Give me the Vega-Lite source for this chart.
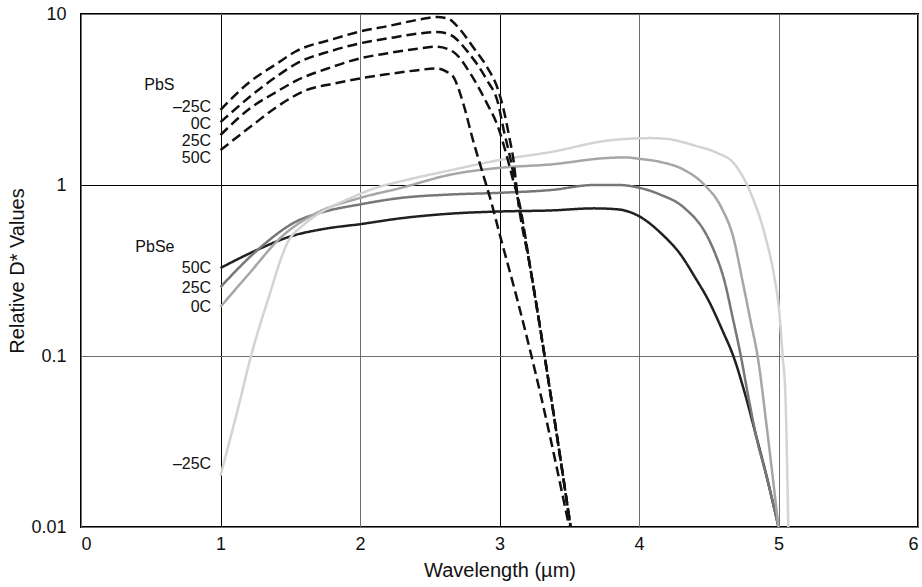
{
  "$schema": "https://vega.github.io/schema/vega-lite/v6.json",
  "autosize": {"type": "none"},
  "width": 837,
  "height": 513,
  "padding": {"left": 81, "top": 14, "right": 4, "bottom": 60},
  "background": "white",
  "config": {
    "font": "Liberation Sans",
    "view": {"stroke": "#000", "strokeWidth": 2},
    "axis": {"domain": false, "ticks": false, "labelFont": "Liberation Sans", "titleFont": "Liberation Sans", "labelColor": "#111", "titleColor": "#111", "titleFontWeight": "normal"}
  },
  "datasets": {
    "curves": [
      {"series": "PbSe 50C", "material": "PbSe", "x": 1.0, "y": 0.327},
      {"series": "PbSe 50C", "material": "PbSe", "x": 1.27, "y": 0.42},
      {"series": "PbSe 50C", "material": "PbSe", "x": 1.5, "y": 0.5},
      {"series": "PbSe 50C", "material": "PbSe", "x": 1.75, "y": 0.555},
      {"series": "PbSe 50C", "material": "PbSe", "x": 2.0, "y": 0.59},
      {"series": "PbSe 50C", "material": "PbSe", "x": 2.3, "y": 0.64},
      {"series": "PbSe 50C", "material": "PbSe", "x": 2.65, "y": 0.68},
      {"series": "PbSe 50C", "material": "PbSe", "x": 3.0, "y": 0.7},
      {"series": "PbSe 50C", "material": "PbSe", "x": 3.37, "y": 0.71},
      {"series": "PbSe 50C", "material": "PbSe", "x": 3.68, "y": 0.73},
      {"series": "PbSe 50C", "material": "PbSe", "x": 3.85, "y": 0.72},
      {"series": "PbSe 50C", "material": "PbSe", "x": 4.01, "y": 0.65},
      {"series": "PbSe 50C", "material": "PbSe", "x": 4.16, "y": 0.52},
      {"series": "PbSe 50C", "material": "PbSe", "x": 4.3, "y": 0.39},
      {"series": "PbSe 50C", "material": "PbSe", "x": 4.4, "y": 0.29},
      {"series": "PbSe 50C", "material": "PbSe", "x": 4.5, "y": 0.21},
      {"series": "PbSe 50C", "material": "PbSe", "x": 4.6, "y": 0.14},
      {"series": "PbSe 50C", "material": "PbSe", "x": 4.68, "y": 0.098},
      {"series": "PbSe 50C", "material": "PbSe", "x": 4.76, "y": 0.06},
      {"series": "PbSe 50C", "material": "PbSe", "x": 4.84, "y": 0.034},
      {"series": "PbSe 50C", "material": "PbSe", "x": 4.92, "y": 0.019},
      {"series": "PbSe 50C", "material": "PbSe", "x": 5.0, "y": 0.01},

      {"series": "PbSe 25C", "material": "PbSe", "x": 1.0, "y": 0.253},
      {"series": "PbSe 25C", "material": "PbSe", "x": 1.27, "y": 0.42},
      {"series": "PbSe 25C", "material": "PbSe", "x": 1.54, "y": 0.61},
      {"series": "PbSe 25C", "material": "PbSe", "x": 1.75, "y": 0.7},
      {"series": "PbSe 25C", "material": "PbSe", "x": 2.0, "y": 0.77},
      {"series": "PbSe 25C", "material": "PbSe", "x": 2.29, "y": 0.84},
      {"series": "PbSe 25C", "material": "PbSe", "x": 2.65, "y": 0.88},
      {"series": "PbSe 25C", "material": "PbSe", "x": 3.0, "y": 0.9},
      {"series": "PbSe 25C", "material": "PbSe", "x": 3.37, "y": 0.935},
      {"series": "PbSe 25C", "material": "PbSe", "x": 3.68, "y": 1.0},
      {"series": "PbSe 25C", "material": "PbSe", "x": 3.85, "y": 1.0},
      {"series": "PbSe 25C", "material": "PbSe", "x": 4.01, "y": 0.96},
      {"series": "PbSe 25C", "material": "PbSe", "x": 4.15, "y": 0.88},
      {"series": "PbSe 25C", "material": "PbSe", "x": 4.32, "y": 0.74},
      {"series": "PbSe 25C", "material": "PbSe", "x": 4.49, "y": 0.5},
      {"series": "PbSe 25C", "material": "PbSe", "x": 4.55, "y": 0.39},
      {"series": "PbSe 25C", "material": "PbSe", "x": 4.61, "y": 0.28},
      {"series": "PbSe 25C", "material": "PbSe", "x": 4.67, "y": 0.17},
      {"series": "PbSe 25C", "material": "PbSe", "x": 4.73, "y": 0.1},
      {"series": "PbSe 25C", "material": "PbSe", "x": 4.78, "y": 0.06},
      {"series": "PbSe 25C", "material": "PbSe", "x": 4.84, "y": 0.034},
      {"series": "PbSe 25C", "material": "PbSe", "x": 4.92, "y": 0.019},
      {"series": "PbSe 25C", "material": "PbSe", "x": 5.0, "y": 0.01},

      {"series": "PbSe 0C", "material": "PbSe", "x": 1.0, "y": 0.194},
      {"series": "PbSe 0C", "material": "PbSe", "x": 1.2, "y": 0.3},
      {"series": "PbSe 0C", "material": "PbSe", "x": 1.44, "y": 0.5},
      {"series": "PbSe 0C", "material": "PbSe", "x": 1.68, "y": 0.68},
      {"series": "PbSe 0C", "material": "PbSe", "x": 2.0, "y": 0.84},
      {"series": "PbSe 0C", "material": "PbSe", "x": 2.29, "y": 0.96},
      {"series": "PbSe 0C", "material": "PbSe", "x": 2.65, "y": 1.15},
      {"series": "PbSe 0C", "material": "PbSe", "x": 3.0, "y": 1.26},
      {"series": "PbSe 0C", "material": "PbSe", "x": 3.37, "y": 1.32},
      {"series": "PbSe 0C", "material": "PbSe", "x": 3.78, "y": 1.44},
      {"series": "PbSe 0C", "material": "PbSe", "x": 3.9, "y": 1.45},
      {"series": "PbSe 0C", "material": "PbSe", "x": 4.01, "y": 1.42},
      {"series": "PbSe 0C", "material": "PbSe", "x": 4.16, "y": 1.36},
      {"series": "PbSe 0C", "material": "PbSe", "x": 4.32, "y": 1.23},
      {"series": "PbSe 0C", "material": "PbSe", "x": 4.47, "y": 1.0},
      {"series": "PbSe 0C", "material": "PbSe", "x": 4.59, "y": 0.74},
      {"series": "PbSe 0C", "material": "PbSe", "x": 4.68, "y": 0.48},
      {"series": "PbSe 0C", "material": "PbSe", "x": 4.74, "y": 0.28},
      {"series": "PbSe 0C", "material": "PbSe", "x": 4.8, "y": 0.16},
      {"series": "PbSe 0C", "material": "PbSe", "x": 4.85, "y": 0.1},
      {"series": "PbSe 0C", "material": "PbSe", "x": 4.92, "y": 0.036},
      {"series": "PbSe 0C", "material": "PbSe", "x": 5.0, "y": 0.01},

      {"series": "PbSe -25C", "material": "PbSe", "x": 1.0, "y": 0.02},
      {"series": "PbSe -25C", "material": "PbSe", "x": 1.14, "y": 0.055},
      {"series": "PbSe -25C", "material": "PbSe", "x": 1.21, "y": 0.094},
      {"series": "PbSe -25C", "material": "PbSe", "x": 1.34, "y": 0.213},
      {"series": "PbSe -25C", "material": "PbSe", "x": 1.49, "y": 0.476},
      {"series": "PbSe -25C", "material": "PbSe", "x": 1.58, "y": 0.57},
      {"series": "PbSe -25C", "material": "PbSe", "x": 1.68, "y": 0.66},
      {"series": "PbSe -25C", "material": "PbSe", "x": 1.8, "y": 0.75},
      {"series": "PbSe -25C", "material": "PbSe", "x": 1.92, "y": 0.83},
      {"series": "PbSe -25C", "material": "PbSe", "x": 2.11, "y": 0.96},
      {"series": "PbSe -25C", "material": "PbSe", "x": 2.29, "y": 1.05},
      {"series": "PbSe -25C", "material": "PbSe", "x": 2.65, "y": 1.22},
      {"series": "PbSe -25C", "material": "PbSe", "x": 3.0, "y": 1.4},
      {"series": "PbSe -25C", "material": "PbSe", "x": 3.37, "y": 1.56},
      {"series": "PbSe -25C", "material": "PbSe", "x": 3.78, "y": 1.82},
      {"series": "PbSe -25C", "material": "PbSe", "x": 4.08, "y": 1.88},
      {"series": "PbSe -25C", "material": "PbSe", "x": 4.2, "y": 1.86},
      {"series": "PbSe -25C", "material": "PbSe", "x": 4.4, "y": 1.7},
      {"series": "PbSe -25C", "material": "PbSe", "x": 4.56, "y": 1.54},
      {"series": "PbSe -25C", "material": "PbSe", "x": 4.68, "y": 1.34},
      {"series": "PbSe -25C", "material": "PbSe", "x": 4.8, "y": 0.9},
      {"series": "PbSe -25C", "material": "PbSe", "x": 4.9, "y": 0.52},
      {"series": "PbSe -25C", "material": "PbSe", "x": 4.97, "y": 0.29},
      {"series": "PbSe -25C", "material": "PbSe", "x": 5.0, "y": 0.2},
      {"series": "PbSe -25C", "material": "PbSe", "x": 5.03, "y": 0.1},
      {"series": "PbSe -25C", "material": "PbSe", "x": 5.05, "y": 0.057},
      {"series": "PbSe -25C", "material": "PbSe", "x": 5.07, "y": 0.01},

      {"series": "PbS -25C", "material": "PbS", "x": 1.0, "y": 2.75},
      {"series": "PbS -25C", "material": "PbS", "x": 1.2, "y": 3.95},
      {"series": "PbS -25C", "material": "PbS", "x": 1.4, "y": 5.1},
      {"series": "PbS -25C", "material": "PbS", "x": 1.55, "y": 6.1},
      {"series": "PbS -25C", "material": "PbS", "x": 1.8, "y": 7.1},
      {"series": "PbS -25C", "material": "PbS", "x": 2.0, "y": 7.9},
      {"series": "PbS -25C", "material": "PbS", "x": 2.2, "y": 8.5},
      {"series": "PbS -25C", "material": "PbS", "x": 2.43, "y": 9.3},
      {"series": "PbS -25C", "material": "PbS", "x": 2.55, "y": 9.6},
      {"series": "PbS -25C", "material": "PbS", "x": 2.63, "y": 9.4},
      {"series": "PbS -25C", "material": "PbS", "x": 2.72, "y": 8.06},
      {"series": "PbS -25C", "material": "PbS", "x": 2.81, "y": 6.41},
      {"series": "PbS -25C", "material": "PbS", "x": 2.91, "y": 4.9},
      {"series": "PbS -25C", "material": "PbS", "x": 2.99, "y": 3.6},
      {"series": "PbS -25C", "material": "PbS", "x": 3.03, "y": 2.75},
      {"series": "PbS -25C", "material": "PbS", "x": 3.07, "y": 1.91},
      {"series": "PbS -25C", "material": "PbS", "x": 3.1, "y": 1.4},
      {"series": "PbS -25C", "material": "PbS", "x": 3.13, "y": 0.85},
      {"series": "PbS -25C", "material": "PbS", "x": 3.22, "y": 0.33},
      {"series": "PbS -25C", "material": "PbS", "x": 3.37, "y": 0.057},
      {"series": "PbS -25C", "material": "PbS", "x": 3.51, "y": 0.01},

      {"series": "PbS 0C", "material": "PbS", "x": 1.0, "y": 2.33},
      {"series": "PbS 0C", "material": "PbS", "x": 1.21, "y": 3.28},
      {"series": "PbS 0C", "material": "PbS", "x": 1.4, "y": 4.3},
      {"series": "PbS 0C", "material": "PbS", "x": 1.55, "y": 5.16},
      {"series": "PbS 0C", "material": "PbS", "x": 1.8, "y": 6.1},
      {"series": "PbS 0C", "material": "PbS", "x": 2.0, "y": 6.74},
      {"series": "PbS 0C", "material": "PbS", "x": 2.2, "y": 7.2},
      {"series": "PbS 0C", "material": "PbS", "x": 2.43, "y": 7.7},
      {"series": "PbS 0C", "material": "PbS", "x": 2.55, "y": 7.85},
      {"series": "PbS 0C", "material": "PbS", "x": 2.65, "y": 7.54},
      {"series": "PbS 0C", "material": "PbS", "x": 2.78, "y": 5.9},
      {"series": "PbS 0C", "material": "PbS", "x": 2.91, "y": 4.1},
      {"series": "PbS 0C", "material": "PbS", "x": 2.99, "y": 3.0},
      {"series": "PbS 0C", "material": "PbS", "x": 3.03, "y": 2.1},
      {"series": "PbS 0C", "material": "PbS", "x": 3.08, "y": 1.4},
      {"series": "PbS 0C", "material": "PbS", "x": 3.13, "y": 0.85},
      {"series": "PbS 0C", "material": "PbS", "x": 3.22, "y": 0.33},
      {"series": "PbS 0C", "material": "PbS", "x": 3.37, "y": 0.057},
      {"series": "PbS 0C", "material": "PbS", "x": 3.51, "y": 0.01},

      {"series": "PbS 25C", "material": "PbS", "x": 1.0, "y": 1.96},
      {"series": "PbS 25C", "material": "PbS", "x": 1.21, "y": 2.8},
      {"series": "PbS 25C", "material": "PbS", "x": 1.4, "y": 3.5},
      {"series": "PbS 25C", "material": "PbS", "x": 1.55, "y": 4.1},
      {"series": "PbS 25C", "material": "PbS", "x": 1.8, "y": 4.9},
      {"series": "PbS 25C", "material": "PbS", "x": 2.0, "y": 5.5},
      {"series": "PbS 25C", "material": "PbS", "x": 2.2, "y": 5.9},
      {"series": "PbS 25C", "material": "PbS", "x": 2.4, "y": 6.25},
      {"series": "PbS 25C", "material": "PbS", "x": 2.55, "y": 6.44},
      {"series": "PbS 25C", "material": "PbS", "x": 2.67, "y": 6.0},
      {"series": "PbS 25C", "material": "PbS", "x": 2.79, "y": 4.5},
      {"series": "PbS 25C", "material": "PbS", "x": 2.91, "y": 3.0},
      {"series": "PbS 25C", "material": "PbS", "x": 2.99, "y": 2.18},
      {"series": "PbS 25C", "material": "PbS", "x": 3.05, "y": 1.5},
      {"series": "PbS 25C", "material": "PbS", "x": 3.1, "y": 1.05},
      {"series": "PbS 25C", "material": "PbS", "x": 3.14, "y": 0.8},
      {"series": "PbS 25C", "material": "PbS", "x": 3.22, "y": 0.33},
      {"series": "PbS 25C", "material": "PbS", "x": 3.37, "y": 0.057},
      {"series": "PbS 25C", "material": "PbS", "x": 3.51, "y": 0.01},

      {"series": "PbS 50C", "material": "PbS", "x": 1.0, "y": 1.6},
      {"series": "PbS 50C", "material": "PbS", "x": 1.23, "y": 2.24},
      {"series": "PbS 50C", "material": "PbS", "x": 1.4, "y": 2.85},
      {"series": "PbS 50C", "material": "PbS", "x": 1.62, "y": 3.6},
      {"series": "PbS 50C", "material": "PbS", "x": 1.8, "y": 3.9},
      {"series": "PbS 50C", "material": "PbS", "x": 2.0, "y": 4.2},
      {"series": "PbS 50C", "material": "PbS", "x": 2.2, "y": 4.45},
      {"series": "PbS 50C", "material": "PbS", "x": 2.4, "y": 4.68},
      {"series": "PbS 50C", "material": "PbS", "x": 2.55, "y": 4.8},
      {"series": "PbS 50C", "material": "PbS", "x": 2.62, "y": 4.6},
      {"series": "PbS 50C", "material": "PbS", "x": 2.67, "y": 4.28},
      {"series": "PbS 50C", "material": "PbS", "x": 2.74, "y": 3.0},
      {"series": "PbS 50C", "material": "PbS", "x": 2.81, "y": 1.83},
      {"series": "PbS 50C", "material": "PbS", "x": 2.88, "y": 1.17},
      {"series": "PbS 50C", "material": "PbS", "x": 2.94, "y": 0.8},
      {"series": "PbS 50C", "material": "PbS", "x": 3.0, "y": 0.52},
      {"series": "PbS 50C", "material": "PbS", "x": 3.13, "y": 0.21},
      {"series": "PbS 50C", "material": "PbS", "x": 3.3, "y": 0.057},
      {"series": "PbS 50C", "material": "PbS", "x": 3.5, "y": 0.01}
    ],
    "labels": [
      {"label": "PbS", "x": 0.67, "y": 3.85},
      {"label": "–25C", "x": 0.933, "y": 2.86},
      {"label": "0C", "x": 0.933, "y": 2.28},
      {"label": "25C", "x": 0.933, "y": 1.81},
      {"label": "50C", "x": 0.933, "y": 1.44},
      {"label": "PbSe", "x": 0.67, "y": 0.434},
      {"label": "50C", "x": 0.933, "y": 0.327},
      {"label": "25C", "x": 0.933, "y": 0.25},
      {"label": "0C", "x": 0.933, "y": 0.194},
      {"label": "–25C", "x": 0.933, "y": 0.0233}
    ]
  },
  "layer": [
    {
      "data": {"name": "curves"},
      "mark": {"type": "line", "interpolate": "monotone", "strokeWidth": 2.5, "clip": true},
      "encoding": {
        "x": {
          "field": "x", "type": "quantitative",
          "scale": {"domain": [0, 6], "nice": false, "zero": false},
          "axis": {
            "values": [0, 1, 2, 3, 4, 5, 6], "format": "d",
            "title": "Wavelength (µm)", "titleFontSize": 20, "titlePadding": 7,
            "labelFontSize": 18, "labelPadding": 8,
            "grid": true,
            "gridColor": {"condition": {"test": "datum.value == 1 || datum.value == 3", "value": "#000"}, "value": "#6e6e6e"},
            "gridWidth": 1
          }
        },
        "y": {
          "field": "y", "type": "quantitative",
          "scale": {"type": "log", "domain": [0.01, 10], "nice": false},
          "axis": {
            "values": [0.01, 0.1, 1, 10], "format": "~g",
            "title": "Relative D* Values", "titleFontSize": 20, "titlePadding": 3,
            "labelFontSize": 18, "labelPadding": 15,
            "grid": true,
            "gridColor": {"condition": {"test": "datum.value == 1", "value": "#000"}, "value": "#6e6e6e"},
            "gridWidth": 1
          }
        },
        "detail": {"field": "series"},
        "color": {
          "field": "series", "type": "nominal", "legend": null,
          "scale": {
            "domain": ["PbSe 50C", "PbSe 25C", "PbSe 0C", "PbSe -25C", "PbS -25C", "PbS 0C", "PbS 25C", "PbS 50C"],
            "range": ["#231f20", "#777777", "#a6a6a6", "#d3d3d3", "#111111", "#111111", "#111111", "#111111"]
          }
        },
        "strokeDash": {
          "field": "material", "type": "nominal", "legend": null,
          "scale": {"domain": ["PbS", "PbSe"], "range": [[10, 5], [1, 0]]}
        }
      }
    },
    {
      "data": {"name": "labels"},
      "mark": {"type": "text", "align": "right", "baseline": "middle", "fontSize": 16, "font": "Liberation Sans", "color": "#111"},
      "encoding": {
        "x": {"field": "x", "type": "quantitative"},
        "y": {"field": "y", "type": "quantitative"},
        "text": {"field": "label"}
      }
    }
  ]
}
